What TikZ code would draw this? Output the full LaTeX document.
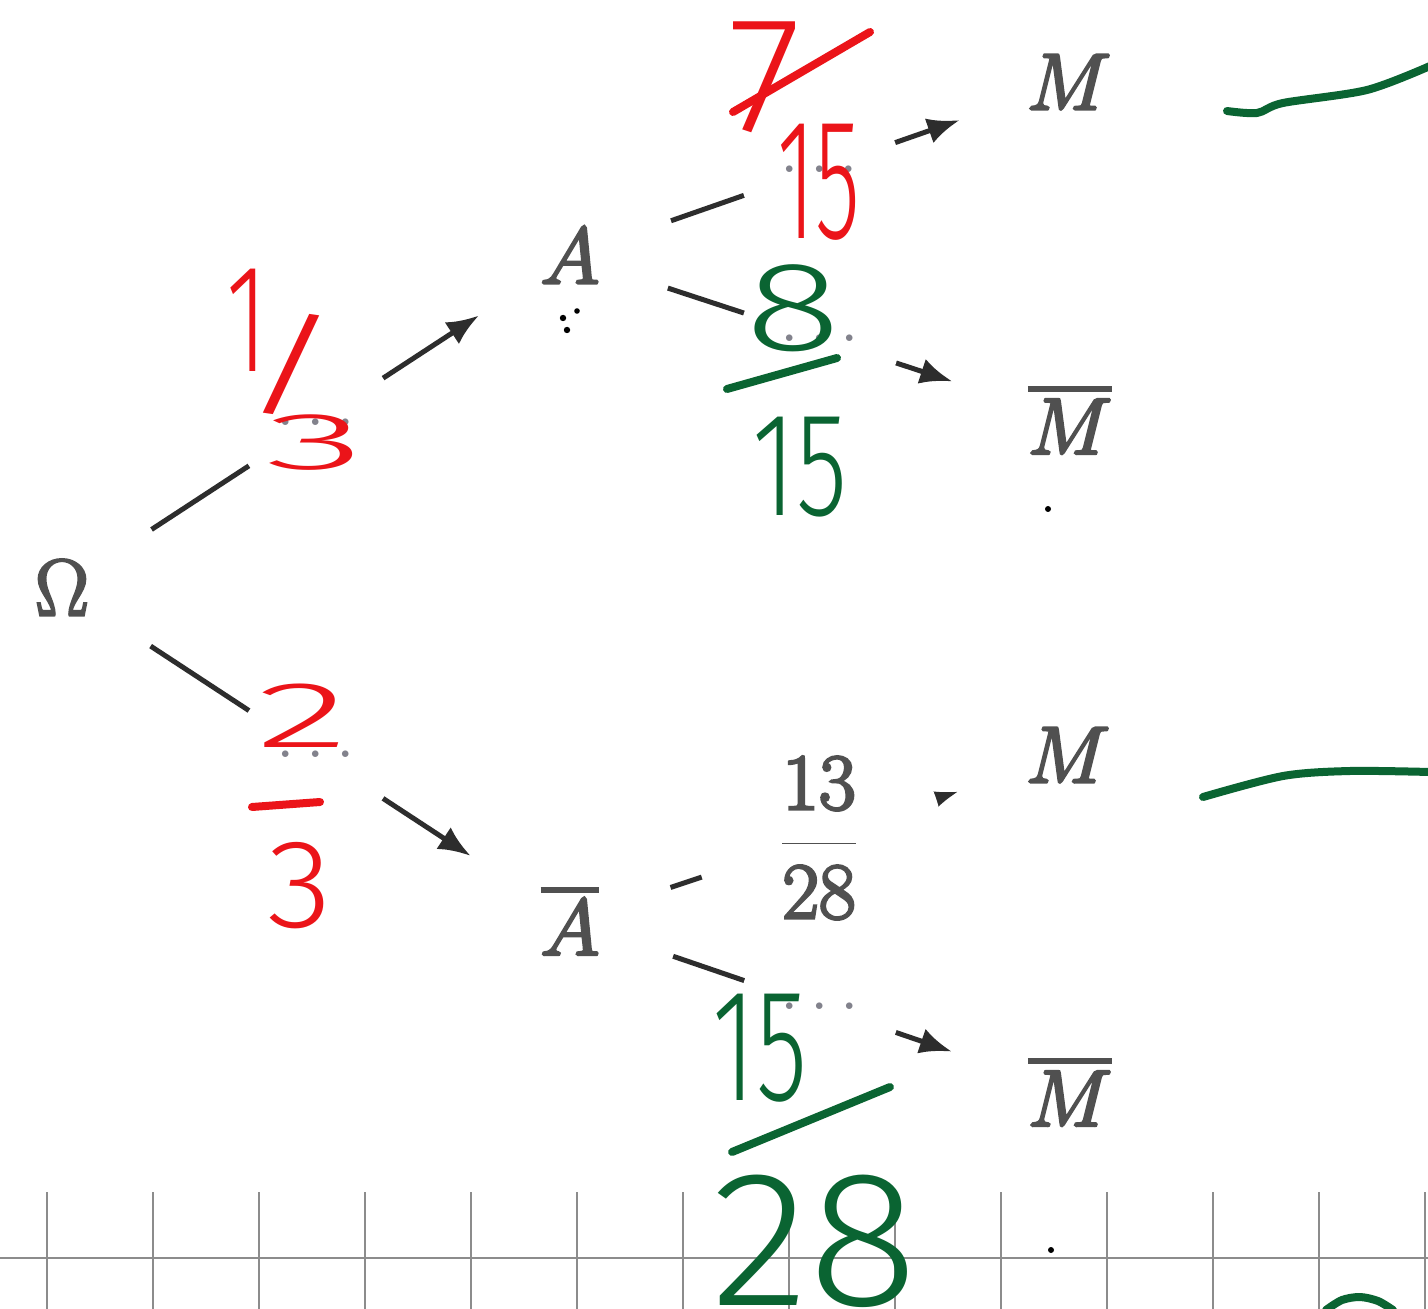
\RequirePackage{fix-cm}
\documentclass[tikz,border=0pt]{standalone}
\usepackage{fontspec}
\usetikzlibrary{arrows.meta}
\IfFontExistsTF{Fira Sans Light}
  {\newfontfamily\handfont{Fira Sans Light}}
  {\newfontfamily\handfont{Liberation Sans}}
\definecolor{inkgray}{RGB}{80,80,80}
\definecolor{dotgray}{RGB}{130,130,140}
\definecolor{linegray}{RGB}{45,45,45}
\definecolor{gridgray}{RGB}{140,140,140}
\definecolor{penred}{RGB}{235,20,25}
\definecolor{pengreen}{RGB}{10,100,50}
% place a scaled handwritten piece: dx, dy, xscale, yscale, text
\newcommand\hwpiece[5]{\rlap{\hspace{#1}\raisebox{#2}{\makebox[0pt]{\scalebox{#3}[#4]{#5}}}}}
\newcommand\heavyon{\special{pdf:literal direct 2 Tr 1.4 w}}
\newcommand\heavyoff{\special{pdf:literal direct 0 Tr}}
% letter with a thick bar above it
\newcommand\barred[1]{\vbox{\hrule height 3pt\kern 3.5pt\hbox{$#1$}}}
\tikzset{
  lab/.style={text=inkgray, font=\fontsize{40}{48}\selectfont, inner sep=0pt,
    execute at begin node=\heavyon, execute at end node=\heavyoff},
  edge/.style={draw=linegray, line width=2.5pt, -{Latex[length=16pt,width=13pt]}},
  gap/.style={circle, fill=white, inner sep=0pt, minimum size=80pt, text=dotgray, font=\fontsize{34}{40}\selectfont},
  fraclab/.style={gap, minimum size=123.5pt, text=inkgray, font=\fontsize{40}{48}\selectfont,
    execute at begin node=\heavyon, execute at end node=\heavyoff},
  hred/.style={text=penred, font=\handfont\fontsize{50}{50}\selectfont, inner sep=0pt, anchor=base},
  hgreen/.style={text=pengreen, font=\handfont\fontsize{50}{50}\selectfont, inner sep=0pt, anchor=base},
  pen/.style={line width=4pt, line cap=round, line join=round},
  gridline/.style={draw=gridgray, line width=1.2pt},
  speck/.style={fill=black}
}
\begin{document}
\begin{tikzpicture}[x=0.5pt, y=-0.5pt]
\useasboundingbox (0,0) rectangle (1428,1309);
\fill[white] (0,0) rectangle (1428,1309);

% grid at the bottom
\foreach \gx in {47,153,259,365,471,577,683,789,895,1001,1107,1213,1319,1425}
  \draw[gridline] (\gx,1192) -- (\gx,1309);
\draw[gridline] (0,1258) -- (1428,1258);

% tree nodes
\node[lab] (Om)  at (62,588)   {$\Omega$};
\node[lab] (A)   at (570,256)  {$A$};
\node[lab] (Ab)  at (570,921)  {\barred{A}};
\node[lab] (M1)  at (1069,82)  {$M$};
\node[lab] (M1b) at (1070,420) {\barred{M}};
\node[lab] (M2)  at (1068,755) {$M$};
\node[lab] (M2b) at (1070,1092) {\barred{M}};

% connectors with labels
\draw[edge, shorten <=53.5pt, shorten >=54.5pt] (Om.center) -- node[gap] (g1) {$\dots$} (A.center);
\draw[edge, shorten <=53pt, shorten >=59.5pt] (Om.center) -- node[gap] (g2) {$\dots$} (Ab.center);
\draw[edge, shorten <=53.5pt, shorten >=58pt] (A.center) -- node[gap] (g3) {$\dots$} (M1.center);
\draw[edge, shorten <=51.5pt, shorten >=62pt] (A.center) -- node[gap] (g4) {$\dots$} (M1b.center);
\draw[edge, shorten <=53pt, shorten >=58pt] (Ab.center) -- node[fraclab] (g5) {$\displaystyle\frac{13}{28}$} (M2.center);
\draw[edge, shorten <=54.5pt, shorten >=62.5pt] (Ab.center) -- node[gap] (g6) {$\dots$} (M2b.center);

% handwritten annotations
\node[hred] (h13) at (247,372)
  {\hwpiece{0pt}{0pt}{1}{1.54}{1}\hwpiece{22pt}{-16pt}{2}{1.11}{/}\hwpiece{34.5pt}{-49pt}{2.06}{0.81}{3}};

\node[hred] (h715) at (765,132)
  {\hwpiece{0pt}{0pt}{1.67}{1.65}{7}\hwpiece{27pt}{-53.5pt}{0.92}{1.72}{15}};
\draw[pen, penred] (733,112) -- (870,32);

\node[hgreen] (h815) at (793,351)
  {\hwpiece{0pt}{0pt}{1.78}{1.27}{8}\hwpiece{3.5pt}{-82.5pt}{1.05}{1.48}{15}};
\draw[pen, pengreen] (727,389) -- (837,358);

\node[hred] (h23) at (303,747)
  {\hwpiece{0pt}{0pt}{1.93}{0.94}{2}\hwpiece{-1.5pt}{-90pt}{1.33}{1.26}{3}};
\draw[pen, penred] (252,807) -- (320,802);

\node[hgreen] (h1528) at (760,1100)
  {\hwpiece{0pt}{0pt}{1.05}{1.6}{15}\hwpiece{27.5pt}{-102.5pt}{2.04}{1.93}{28}};
\draw[pen, pengreen] (732,1152) -- (890,1087);

% green ticks on the right
\draw[pen, pengreen] plot[smooth] coordinates {(1227,111) (1257,113) (1283,103) (1367,90) (1430,66)};
\draw[pen, pengreen] plot[smooth] coordinates {(1203,797) (1283,776) (1350,771) (1430,772)};
\draw[pen, pengreen] plot[smooth] coordinates {(1326,1310) (1342,1300) (1360,1297) (1378,1301) (1393,1310)};

% small specks
\fill[speck] (563,318) circle (1.6pt);
\fill[speck] (577,311) circle (1.4pt);
\fill[speck] (567,330) circle (1.6pt);
\fill[speck] (1048,509) circle (1.5pt);
\fill[speck] (1051,1250) circle (1.5pt);
\end{tikzpicture}
\end{document}
